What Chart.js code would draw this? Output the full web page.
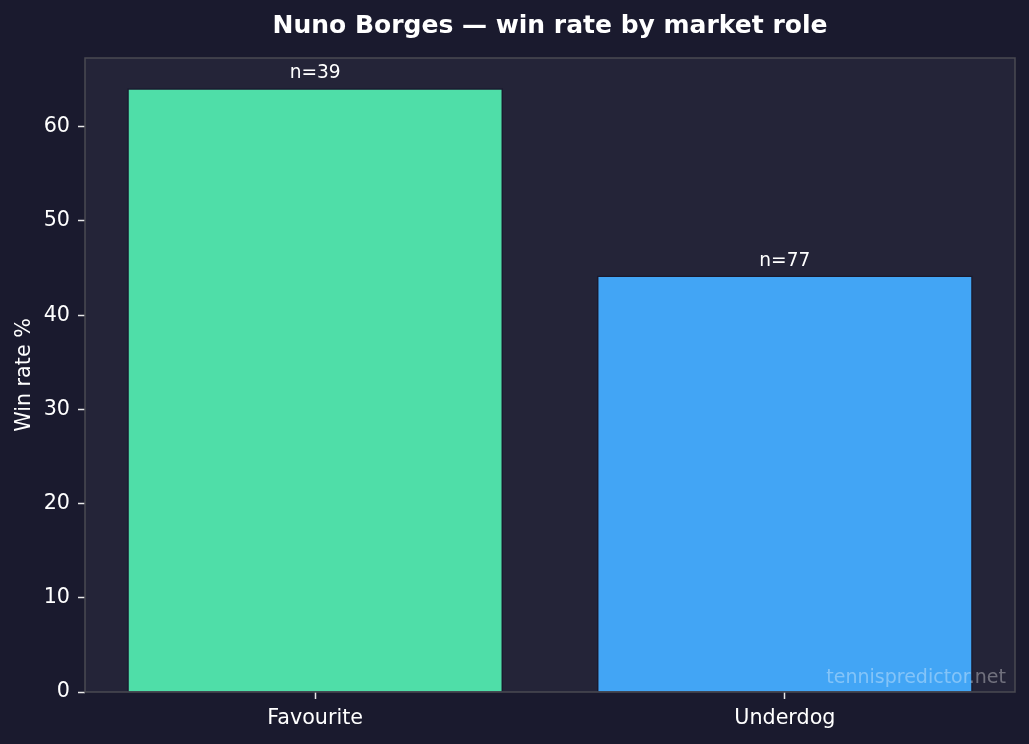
<!DOCTYPE html>
<html>
<head>
<meta charset="utf-8">
<script src="https://cdn.jsdelivr.net/npm/chart.js@4"></script>
<style>
    html, body { margin: 0; padding: 0; background: #1a1a2e; }
    canvas { display: block; }
</style>
</head>
<body>
<canvas id="roleChart" width="1029" height="744"></canvas>
<script>
// Chart data
const roles = ['Favourite', 'Underdog'];
const winRates = [64.1, 44.2];
const sampleSizes = [39, 77];
const barColors = ['#4fdea8', '#42a5f5'];
const yTicks = [0, 10, 20, 30, 40, 50, 60];

const FONT = "'DejaVu Sans', sans-serif";

// background of the figure and the plot area, plus the grey frame
const backgroundPlugin = {
    id: 'backgrounds',
    beforeDraw(chart) {
        const { ctx, chartArea: a } = chart;
        ctx.save();
        ctx.fillStyle = '#1a1a2e';
        ctx.fillRect(0, 0, chart.width, chart.height);
        ctx.fillStyle = '#242438';
        ctx.fillRect(a.left, a.top, a.right - a.left, a.bottom - a.top);
        ctx.restore();
    },
    afterDraw(chart) {
        const { ctx, chartArea: a } = chart;
        ctx.save();
        ctx.strokeStyle = '#4a4a52';
        ctx.lineWidth = 1.5;
        ctx.strokeRect(a.left, a.top, a.right - a.left, a.bottom - a.top);
        ctx.restore();
    }
};

// "n=.." labels above the bars and the watermark
const labelsPlugin = {
    id: 'barLabels',
    afterDatasetsDraw(chart) {
        const { ctx, chartArea: a } = chart;
        const meta = chart.getDatasetMeta(0);
        ctx.save();
        ctx.fillStyle = '#ffffff';
        ctx.font = `18.6px ${FONT}`;
        ctx.textAlign = 'center';
        ctx.textBaseline = 'alphabetic';
        meta.data.forEach((bar, i) => {
            ctx.fillText(`n=${sampleSizes[i]}`, bar.x, bar.y - 10);
        });
        ctx.fillStyle = 'rgba(255, 255, 255, 0.35)';
        ctx.font = `19px ${FONT}`;
        ctx.textAlign = 'right';
        ctx.fillText('tennispredictor.net', a.right - 9, a.bottom - 9);
        ctx.restore();
    }
};

const ctx = document.getElementById('roleChart').getContext('2d');
new Chart(ctx, {
    type: 'bar',
    data: {
        datasets: [{
            data: winRates.map((v, i) => ({ x: i, y: v })),
            backgroundColor: barColors,
            borderColor: '#1a1a2e',
            borderWidth: 1.5,
            barPercentage: 0.8,
            categoryPercentage: 1.0
        }]
    },
    options: {
        responsive: false,
        animation: false,
        devicePixelRatio: 1,
        layout: { padding: { top: 0, right: 14, bottom: 0, left: 0 } },
        plugins: {
            legend: { display: false },
            tooltip: { enabled: false },
            title: {
                display: true,
                fullSize: false,
                text: 'Nuno Borges \u2014 win rate by market role',
                color: '#ffffff',
                font: { family: FONT, size: 25, weight: 'bold', lineHeight: 1.2 },
                padding: { top: 11, bottom: 17 }
            }
        },
        scales: {
            x: {
                type: 'linear',
                min: -0.49,
                max: 1.49,
                offset: false,
                border: { display: false },
                grid: {
                    offset: false,
                    drawOnChartArea: false,
                    drawTicks: true,
                    tickLength: 7,
                    tickWidth: 1.5,
                    tickColor: '#e8e8e8'
                },
                afterBuildTicks(scale) {
                    scale.ticks = roles.map((_, i) => ({ value: i }));
                },
                afterFit(scale) { scale.height = 52; },
                ticks: {
                    color: '#ffffff',
                    font: { family: FONT, size: 20.7 },
                    padding: 7,
                    maxRotation: 0,
                    callback: (value) => roles[value]
                }
            },
            y: {
                min: 0,
                max: 67.3,
                border: { display: false },
                grid: {
                    drawOnChartArea: false,
                    drawTicks: true,
                    tickLength: 7,
                    tickWidth: 1.5,
                    tickColor: '#e8e8e8'
                },
                afterBuildTicks(scale) {
                    scale.ticks = yTicks.map(v => ({ value: v }));
                },
                afterFit(scale) { scale.width = 85; },
                ticks: {
                    color: '#ffffff',
                    font: { family: FONT, size: 20.7 },
                    padding: 8
                },
                title: {
                    display: true,
                    text: 'Win rate %',
                    color: '#ffffff',
                    font: { family: FONT, size: 20.7 },
                    padding: { top: 12, bottom: 0 }
                }
            }
        }
    },
    plugins: [backgroundPlugin, labelsPlugin]
});
</script>
</body>
</html>
